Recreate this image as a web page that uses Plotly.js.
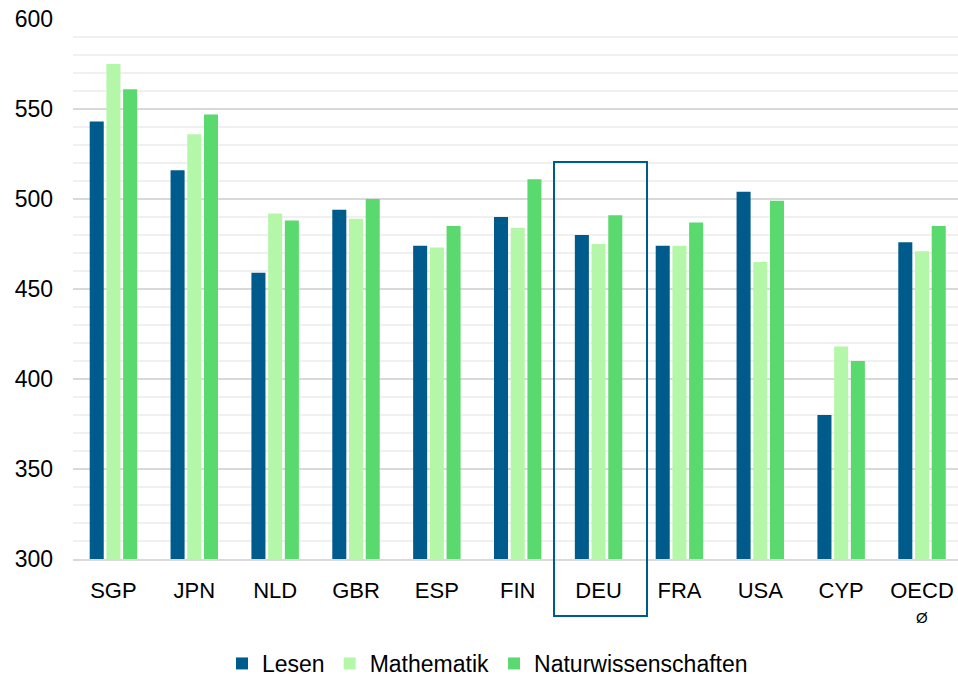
<!DOCTYPE html>
<html>
<head>
<meta charset="utf-8">
<script src="https://cdn.plot.ly/plotly-3.0.1.min.js"></script>
<style>html,body{margin:0;padding:0;background:#fff;}#chart{width:958px;height:680px;}</style>
</head>
<body>
<div id="chart"></div>
<script>
const categories = ["SGP","JPN","NLD","GBR","ESP","FIN","DEU","FRA","USA","CYP","OECD"];
const tickLabels = ["SGP","JPN","NLD","GBR","ESP","FIN","DEU","FRA","USA","CYP","OECD"];
const oecdSubLabel = "Ø";
const lesen = [543, 516, 459, 494, 474, 490, 480, 474, 504, 380, 476];
const mathematik = [575, 536, 492, 489, 473, 484, 475, 474, 465, 418, 471];
const naturwissenschaften = [561, 547, 488, 500, 485, 511, 491, 487, 499, 410, 485];
const seriesNames = ["Lesen","Mathematik","Naturwissenschaften"];
const seriesColors = ["#005B8D","#B5F7A9","#5AD96E"];

const xIdx = categories.map((c,i)=>i);
const series = [lesen, mathematik, naturwissenschaften];
const data = series.map((vals,k)=>({
  type:'bar',
  x:xIdx,
  y:vals,
  name:seriesNames[k],
  marker:{color:seriesColors[k]},
  hoverinfo:'skip'
}));

const layout = {
  width:958, height:680,
  margin:{l:73, r:0, t:19, b:121},
  paper_bgcolor:'#fff', plot_bgcolor:'#fff',
  font:{family:'"Liberation Sans", Arial, sans-serif', size:22, color:'#000'},
  barmode:'group',
  bargap:0.38,
  bargroupgap:0.16,
  showlegend:true,
  legend:{orientation:'h', xref:'container', yref:'container',
          x:222/958, xanchor:'left', y:0, yanchor:'bottom',
          font:{size:23, color:'#000'}, itemwidth:30, tracegroupgap:0},
  xaxis:{
    range:[-0.5, 10.445],
    tickmode:'array', tickvals:xIdx, ticktext:tickLabels,
    showgrid:false, zeroline:false,
    showline:true, linecolor:'#d9d9d9', linewidth:1.5,
    ticks:'', ticklabelstandoff:11,
    tickfont:{size:22, color:'#000'},
    automargin:false,
    fixedrange:true
  },
  yaxis:{
    range:[300,600],
    tickmode:'linear', tick0:300, dtick:50,
    showgrid:true, gridcolor:'#d9d9d9', gridwidth:1.5,
    minor:{dtick:10, showgrid:true, gridcolor:'#f0f0f0', gridwidth:1.5},
    zeroline:false, showline:false,
    ticks:'', ticklabelstandoff:19,
    tickfont:{size:23, color:'#000'},
    automargin:false,
    fixedrange:true
  },
  annotations:[{
    xref:'x', yref:'paper', x:categories.length-1, y:(559-617.5)/540,
    text:oecdSubLabel, showarrow:false, xanchor:'center', yanchor:'middle',
    font:{size:15, color:'#000'}
  }],
  shapes:[{
    type:'rect', xref:'paper', yref:'paper',
    x0:(554-73)/885, x1:(647-73)/885,
    y0:(559-616)/540, y1:(559-162)/540,
    line:{color:'#005B8D', width:2}, fillcolor:'rgba(0,0,0,0)', layer:'above'
  }]
};

Plotly.newPlot('chart', data, layout, {displayModeBar:false, staticPlot:true}).then(gd => {
  const lg = gd.querySelector('g.legend');
  if (lg) {
    const t = lg.getAttribute('transform') || '';
    const m = t.match(/translate\(\s*([-\d.]+)[ ,]+([-\d.]+)\s*\)/);
    if (m) lg.setAttribute('transform', 'translate(' + m[1] + ',' + (parseFloat(m[2]) + 5) + ')');
  }
});
</script>
</body>
</html>
